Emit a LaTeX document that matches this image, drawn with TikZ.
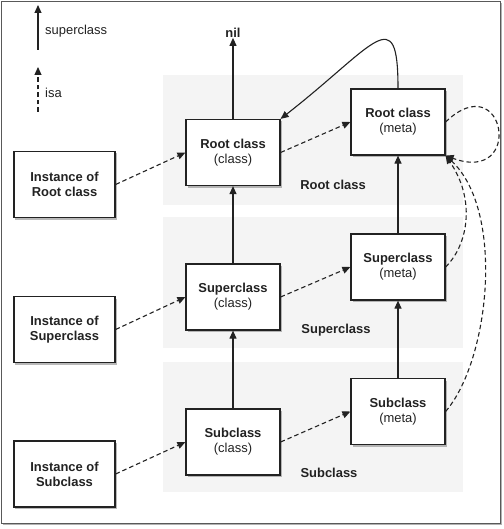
\documentclass[tikz,border=0pt]{standalone}
\usepackage{fontspec}
\setmainfont{Liberation Sans}
\usetikzlibrary{arrows.meta,shadows}
\definecolor{band}{HTML}{F4F4F4}
\definecolor{ink}{HTML}{222222}
\begin{document}
\begin{tikzpicture}[x=1bp,y=1bp]
\tikzstyle{every node}+=[inner sep=0pt, text=ink, font=\fontsize{13}{15}\selectfont]
\tikzstyle{box}=[draw=ink, line width=1.2bp, fill=white, align=center,
  minimum width=94bp, minimum height=66bp,
  drop shadow={shadow xshift=1.5bp, shadow yshift=-2bp, opacity=0.55}]
\tikzstyle{inst}=[box, minimum width=101bp]
\tikzstyle{bandlabel}=[font=\bfseries\fontsize{13}{15}\selectfont]
\tikzstyle{sup}=[draw=ink, line width=1.1bp, -{Triangle[length=8bp,width=7bp]}]
\tikzstyle{isa}=[sup, dash pattern=on 4.5bp off 3bp]
\useasboundingbox (0,0) rectangle (504,-529);
\fill [white] (0,0) rectangle (504,-529);
\draw [gray!70!black, line width=1bp, drop shadow={shadow xshift=1.5bp, shadow yshift=-1.5bp, opacity=0.6}, fill=white] (1.5,-1.5) rectangle (500.5,-523.5);
% bands
\fill [band] (163,-75) rectangle (463,-205);
\fill [band] (163,-217) rectangle (463,-348);
\fill [band] (163,-362) rectangle (463,-492);
\node [bandlabel] (lroot) at (333,-185) {Root class};
\node [bandlabel] (lsuper) at (336,-330) {Superclass};
\node [bandlabel] (lsub) at (329,-473) {Subclass};
% legend
\coordinate (supA) at (38,-50);
\coordinate (supB) at (38,-5);
\draw [sup] (supA) -- (supB);
\node [anchor=west] (supL) at (45,-31) {superclass};
\coordinate (isaA) at (38,-112);
\coordinate (isaB) at (38,-67);
\draw [isa] (isaA) -- (isaB);
\node [anchor=west] (isaL) at (45,-93) {isa};
% class boxes
\node [inst] (iroot) at (64.5,-184.5) {\textbf{Instance of}\\\textbf{Root class}};
\node [inst] (isuper) at (64.5,-329.5) {\textbf{Instance of}\\\textbf{Superclass}};
\node [inst] (isub) at (64.5,-474) {\textbf{Instance of}\\\textbf{Subclass}};
\node [box] (croot) at (233,-152.5) {\textbf{Root class}\\(class)};
\node [box] (csuper) at (233,-297) {\textbf{Superclass}\\(class)};
\node [box] (csub) at (233,-442) {\textbf{Subclass}\\(class)};
\node [box] (mroot) at (398,-122) {\textbf{Root class}\\(meta)};
\node [box] (msuper) at (398,-267) {\textbf{Superclass}\\(meta)};
\node [box] (msub) at (398,-411.5) {\textbf{Subclass}\\(meta)};
\node [bandlabel] (nil) at (233,-33) {nil};
% superclass links
\draw [sup] (croot) -- (nil);
\draw [sup] (csuper) -- (croot);
\draw [sup] (csub) -- (csuper);
\draw [sup] (msuper) -- (mroot);
\draw [sup] (msub) -- (msuper);
\draw [sup] (mroot.north) .. controls (398,0) and (375,-45) .. (croot.north east);
% isa links
\draw [isa] (iroot.east) -- (croot.west);
\draw [isa] (isuper.east) -- (csuper.west);
\draw [isa] (isub.east) -- (csub.west);
\draw [isa] (croot.east) -- (mroot.west);
\draw [isa] (csuper.east) -- (msuper.west);
\draw [isa] (csub.east) -- (msub.west);
\draw [isa] (mroot.east) .. controls (505,-65) and (525,-185) .. (mroot.south east);
\draw [isa] (msuper.east) .. controls (468,-245) and (476,-200) .. (mroot.south east);
\draw [isa] (msub.east) .. controls (490,-360) and (505,-210) .. (mroot.south east);
\end{tikzpicture}
\end{document}
